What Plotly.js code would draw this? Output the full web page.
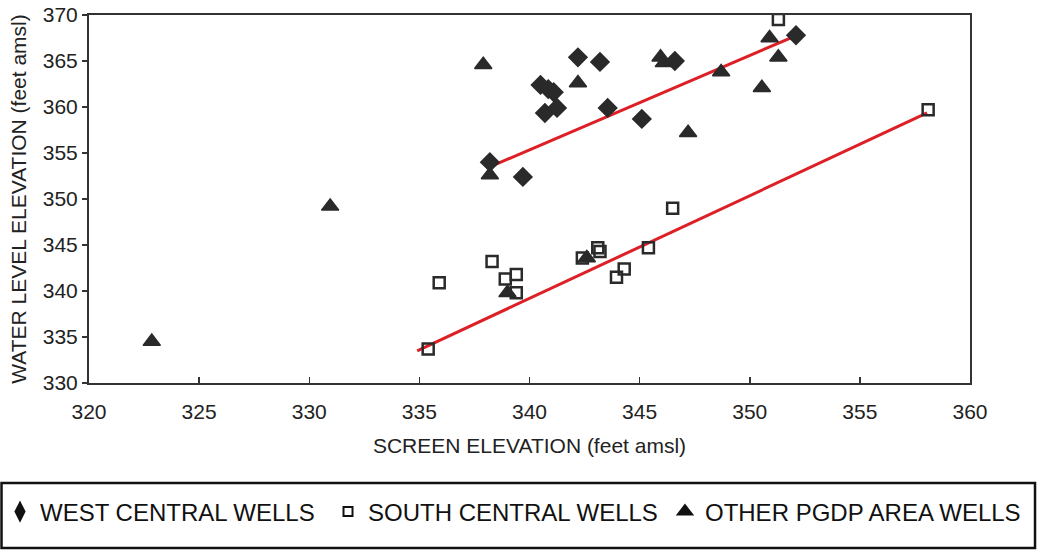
<!DOCTYPE html>
<html>
<head>
<meta charset="utf-8">
<script src="https://cdn.plot.ly/plotly-3.0.1.min.js"></script>
<style>html,body{margin:0;padding:0;background:#fff;}#chart{width:1039px;height:552px;}</style>
</head>
<body>
<div id="chart"></div>
<script>
// West Central Wells (diamonds)
var westX = [342.2, 343.2, 340.5, 340.85, 341.1, 340.7, 341.25, 343.55, 345.1, 338.2, 339.7, 346.6, 352.1];
var westY = [365.4, 364.9, 362.4, 361.95, 361.6, 359.35, 359.9, 359.9, 358.7, 354.0, 352.4, 365.0, 367.8];
// South Central Wells (open squares)
var southX = [351.3, 358.1, 346.5, 345.4, 343.1, 343.2, 342.4, 343.95, 344.3, 338.3, 338.9, 339.4, 339.4, 335.9, 335.4];
var southY = [369.5, 359.7, 349.0, 344.7, 344.7, 344.3, 343.6, 341.5, 342.4, 343.2, 341.3, 341.8, 339.8, 340.9, 333.7];
// Other PGDP Area Wells (triangles)
var otherX = [322.85, 330.95, 337.9, 338.2, 342.2, 339.0, 342.6, 345.95, 346.1, 347.2, 348.7, 350.55, 350.9, 351.3];
var otherY = [334.5, 349.2, 364.6, 352.6, 362.6, 339.8, 343.6, 365.4, 364.8, 357.2, 363.8, 362.1, 367.5, 365.4];
// Trend lines (end points)
var westTrendX = [338.2, 351.95];
var westTrendY = [353.5, 367.6];
var southTrendX = [334.9, 358.05];
var southTrendY = [333.5, 359.35];
// Tick values
var xTicks = [320, 325, 330, 335, 340, 345, 350, 355, 360];
var yTicks = [330, 335, 340, 345, 350, 355, 360, 365, 370];
var legendNames = ['WEST CENTRAL WELLS', 'SOUTH CENTRAL WELLS', 'OTHER PGDP AREA WELLS'];

var dark = '#2a2a2a';
var red = '#dd1f26';
var FONT = 'Liberation Sans, Arial, Helvetica, sans-serif';

var traces = [
  {x: westTrendX, y: westTrendY, mode: 'lines', line: {color: red, width: 3}, showlegend: false, hoverinfo: 'skip'},
  {x: southTrendX, y: southTrendY, mode: 'lines', line: {color: red, width: 3}, showlegend: false, hoverinfo: 'skip'},
  {x: southX, y: southY, mode: 'markers', showlegend: false,
   marker: {symbol: 'square-open', size: 11, color: dark, line: {width: 2.5, color: dark}}},
  {x: otherX, y: otherY, mode: 'markers', showlegend: false,
   marker: {symbol: 'triangle-up', size: 15, color: dark, line: {width: 1.5, color: dark}}},
  {x: westX, y: westY, mode: 'markers', showlegend: false,
   marker: {symbol: 'diamond', size: 14, color: dark, line: {width: 1.5, color: dark}}},
  // legend entries
  {x: [null], y: [null], mode: 'markers', name: legendNames[0], legend: 'legend',
   marker: {symbol: 'diamond-tall', size: 16, color: '#111', line: {width: 0}}},
  {x: [null], y: [null], mode: 'markers', name: legendNames[1], legend: 'legend2',
   marker: {symbol: 'square-open', size: 9, color: '#111', line: {width: 2, color: '#111'}}},
  {x: [null], y: [null], mode: 'markers', name: legendNames[2], legend: 'legend3',
   marker: {symbol: 'triangle-up', size: 16, color: '#111', line: {width: 0}}}
];

var legFont = {family: FONT, size: 24, color: '#111'};
var legBase = {orientation: 'h', yanchor: 'middle', xanchor: 'left', xref: 'container', yref: 'container',
  y: 0.0725, font: legFont, bgcolor: 'rgba(0,0,0,0)', borderwidth: 0};

var layout = {
  width: 1039, height: 552,
  margin: {l: 89, r: 69, t: 15, b: 169, autoexpand: false},
  paper_bgcolor: '#fff', plot_bgcolor: '#fff',
  font: {family: FONT, color: '#222'},
  showlegend: true,
  xaxis: {
    range: [320, 360], tickvals: xTicks, ticktext: xTicks.map(String),
    ticks: 'inside', ticklen: 6, tickwidth: 1.5, tickcolor: '#333',
    showline: true, linecolor: '#333', linewidth: 2, mirror: true,
    showgrid: false, zeroline: false, ticklabelstandoff: 9,
    tickfont: {family: FONT, size: 21, color: '#222'},
    title: {text: 'SCREEN ELEVATION (feet amsl)', font: {family: FONT, size: 21, color: '#222'}, standoff: 16},
    automargin: false
  },
  yaxis: {
    range: [330, 370], tickvals: yTicks, ticktext: yTicks.map(String),
    ticks: 'outside', ticklen: 5, tickwidth: 1.5, tickcolor: '#333',
    showline: true, linecolor: '#333', linewidth: 2, mirror: true,
    showgrid: false, zeroline: false,
    tickfont: {family: FONT, size: 21, color: '#222'},
    title: {text: 'WATER LEVEL ELEVATION (feet amsl)', font: {family: FONT, size: 21, color: '#222'}, standoff: 10},
    automargin: false
  },
  legend: Object.assign({}, legBase, {x: 0.0}),
  legend2: Object.assign({}, legBase, {x: 0.3157}),
  legend3: Object.assign({}, legBase, {x: 0.640}),
  shapes: [
    {type: 'rect', xref: 'paper', yref: 'paper', x0: -0.0993, x1: 1.0738, y0: -0.4484, y1: -0.2717,
     line: {color: '#111', width: 2.5}, fillcolor: 'rgba(0,0,0,0)'}
  ]
};

Plotly.newPlot('chart', traces, layout, {displayModeBar: false, staticPlot: true});
</script>
</body>
</html>
